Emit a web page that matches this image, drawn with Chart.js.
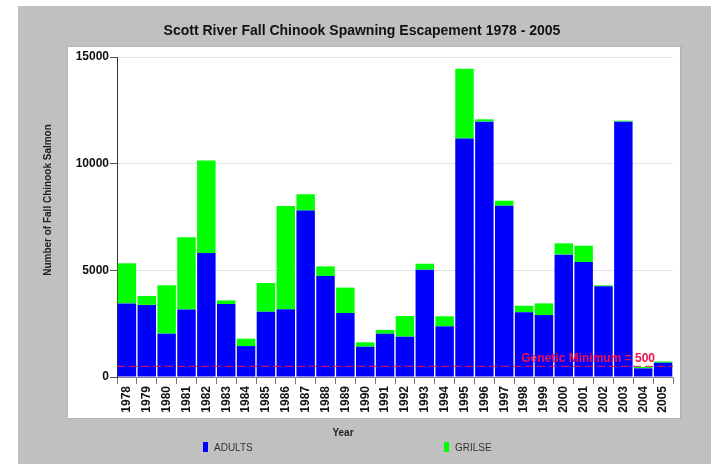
<!DOCTYPE html>
<html><head><meta charset="utf-8">
<script src="https://cdn.jsdelivr.net/npm/chart.js@4/dist/chart.umd.min.js"></script>
<style>html,body{margin:0;padding:0;background:#fff}#wrap{width:711px;height:464px}</style>
</head><body><div id="wrap"><canvas id="c" width="711" height="464"></canvas></div>
<script>
const years = ['1978','1979','1980','1981','1982','1983','1984','1985','1986','1987','1988','1989','1990','1991','1992','1993','1994','1995','1996','1997','1998','1999','2000','2001','2002','2003','2004','2005'];
const adults = [3450,3380,2030,3160,5810,3420,1450,3060,3170,7800,4730,3000,1420,2030,1890,5030,2375,11185,11970,8030,3030,2905,5735,5390,4250,11970,405,670];
const grilse = [1880,420,2270,3390,4340,170,345,1345,4840,765,455,1190,205,175,970,280,470,3265,110,235,310,545,530,765,45,45,65,60];
const yTicks = [0,5000,10000,15000];
const geneticMinimum = 500;
const titleText = 'Scott River Fall Chinook Spawning Escapement 1978 - 2005';
const yTitle = 'Number of Fall Chinook Salmon';
const xTitle = 'Year';
const minLabel = 'Genetic Minimum = 500';

const FONT = '"Liberation Sans", Arial, sans-serif';

const decor = {
  id: 'decor',
  beforeDraw(chart) {
    const {ctx, chartArea: a, width, height} = chart;
    ctx.save();
    ctx.fillStyle = '#ffffff';
    ctx.fillRect(0, 0, width, height);
    ctx.fillStyle = '#c0c0c0';
    ctx.fillRect(18, 6, width - 18, height - 6);
    ctx.fillStyle = '#b4b4b4';
    ctx.fillRect(a.left - 50, a.top - 11, a.right - a.left + 59, a.bottom - a.top + 53);
    ctx.fillStyle = '#ffffff';
    ctx.fillRect(a.left - 49, a.top - 10, a.right - a.left + 56, a.bottom - a.top + 51);
    ctx.fillStyle = '#111';
    ctx.font = 'bold 14px ' + FONT;
    ctx.textAlign = 'center';
    ctx.textBaseline = 'middle';
    ctx.fillText(titleText, a.left + 245, a.top - 26);
    ctx.save();
    ctx.translate(a.left - 69, a.top + 143);
    ctx.rotate(-Math.PI / 2);
    ctx.font = 'bold 10px ' + FONT;
    ctx.fillStyle = '#222';
    ctx.fillText(yTitle, 0, 0);
    ctx.restore();
    ctx.font = 'bold 10px ' + FONT;
    ctx.fillStyle = '#222';
    ctx.fillText(xTitle, a.left + 226, a.bottom + 56);
    ctx.font = '10px ' + FONT;
    ctx.textAlign = 'left';
    const xs = [a.left + 86, a.left + 327];
    chart.data.datasets.forEach((ds, i) => {
      ctx.fillStyle = ds.backgroundColor;
      ctx.fillRect(xs[i], a.bottom + 65, 5, 10);
      ctx.fillStyle = '#333';
      ctx.fillText(ds.label, xs[i] + 11, a.bottom + 71);
    });
    ctx.restore();
  },
  afterDatasetsDraw(chart) {
    const {ctx, chartArea: a, scales} = chart;
    const y = scales.y.getPixelForValue(geneticMinimum);
    ctx.save();
    ctx.strokeStyle = '#e8144a';
    ctx.lineWidth = 1;
    ctx.setLineDash([8, 4]);
    ctx.beginPath();
    ctx.moveTo(a.left, y);
    ctx.lineTo(a.right, y);
    ctx.stroke();
    ctx.setLineDash([]);
    ctx.font = 'bold 12px ' + FONT;
    ctx.fillStyle = '#f0104a';
    ctx.textAlign = 'right';
    ctx.textBaseline = 'middle';
    ctx.fillText(minLabel, a.right - 18, y - 8);
    ctx.restore();
  }
};

new Chart(document.getElementById('c'), {
  type: 'bar',
  data: {
    labels: years,
    datasets: [
      {label: 'ADULTS', data: adults, backgroundColor: '#0000ff', borderWidth: 0},
      {label: 'GRILSE', data: grilse, backgroundColor: '#00ff00', borderWidth: 0}
    ]
  },
  options: {
    responsive: false,
    animation: false,
    devicePixelRatio: 1,
    layout: {padding: {left: 67, right: 38, top: 57, bottom: 42}},
    datasets: {bar: {barPercentage: 0.93, categoryPercentage: 1}},
    plugins: {legend: {display: false}, title: {display: false}, tooltip: {enabled: false}},
    scales: {
      x: {
        stacked: true,
        afterFit(s) { s.height = 45; },
        grid: {display: true, drawOnChartArea: false, offset: true, tickLength: 7, color: '#777'},
        border: {color: '#888'},
        ticks: {minRotation: 90, maxRotation: 90, autoSkip: false, padding: 2, color: '#111', font: {family: FONT, size: 12, weight: 'bold'}}
      },
      y: {
        stacked: true,
        min: 0, max: 15000,
        afterFit(s) { s.width = 50; },
        afterBuildTicks(s) { s.ticks = yTicks.map(v => ({value: v})); },
        grid: {color: '#e2e2e2', tickLength: 7, tickColor: '#555'},
        border: {color: '#333'},
        ticks: {padding: 1, color: '#111', font: {family: FONT, size: 12, weight: 'bold'}, callback: v => String(v)}
      }
    }
  },
  plugins: [decor]
});
</script></body></html>
